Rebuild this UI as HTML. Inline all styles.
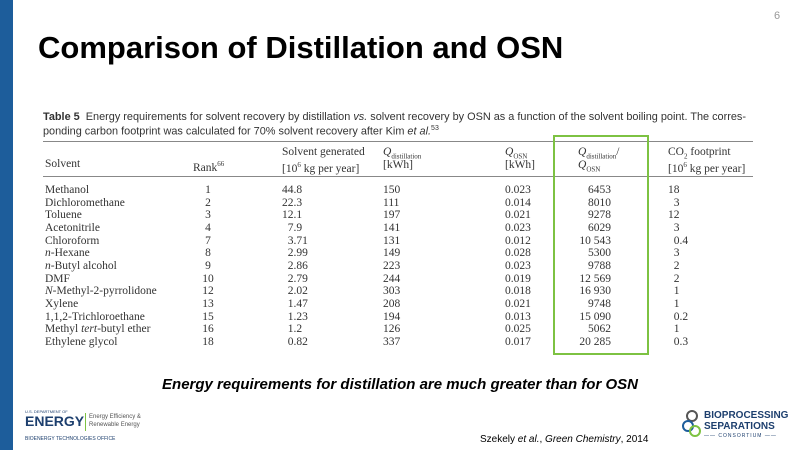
<!DOCTYPE html>
<html><head><style>
body{margin:0;width:800px;height:450px;position:relative;background:#fff;overflow:hidden;font-family:"Liberation Sans",sans-serif}
.a{position:absolute;white-space:nowrap}
.s{font-family:"Liberation Serif",serif;font-size:11.5px;color:#333;line-height:13px}
.cap{font-family:"Liberation Sans",sans-serif;font-size:10.9px;color:#333}
.r{text-align:right}
sub{font-size:7px}
sup{font-size:7px}
</style></head><body>
<div class="a" style="left:0;top:0;width:13px;height:450px;background:#1d5d9b"></div>
<div class="a" style="left:774px;top:10px;font-size:11px;color:#999">6</div>
<div class="a" style="left:38px;top:30px;font-size:31px;font-weight:bold;color:#000">Comparison of Distillation and OSN</div>

<div class="a cap" style="left:43px;top:111px"><b>Table 5</b>&nbsp; Energy requirements for solvent recovery by distillation <i>vs.</i> solvent recovery by OSN as a function of the solvent boiling point. The corres-</div>
<div class="a cap" style="left:43px;top:125px">ponding carbon footprint was calculated for 70% solvent recovery after Kim <i>et al.</i><sup>53</sup></div>
<div class="a" style="left:43px;top:141px;width:710px;height:1px;background:#888"></div>
<div class="a" style="left:43px;top:176px;width:710px;height:1px;background:#888"></div>

<div class="a s" style="left:45px;top:158px">Solvent</div>
<div class="a s" style="left:193px;top:158px">Rank<sup>66</sup></div>
<div class="a s" style="left:282px;top:146px">Solvent generated</div>
<div class="a s" style="left:282px;top:159px">[10<sup>6</sup> kg per year]</div>
<div class="a s" style="left:383px;top:146px"><i>Q</i><sub>distillation</sub></div>
<div class="a s" style="left:383px;top:159px">[kWh]</div>
<div class="a s" style="left:505px;top:146px"><i>Q</i><sub>OSN</sub></div>
<div class="a s" style="left:505px;top:159px">[kWh]</div>
<div class="a s" style="left:578px;top:146px"><i>Q</i><sub>distillation</sub>/</div>
<div class="a s" style="left:578px;top:159px"><i>Q</i><sub>OSN</sub></div>
<div class="a s" style="left:668px;top:146px">CO<sub>2</sub> footprint</div>
<div class="a s" style="left:668px;top:159px">[10<sup>6</sup> kg per year]</div>

<div class="a" style="left:553px;top:135px;width:92px;height:216px;border:2px solid #7dc242"></div>

<div id="rows"></div>
<script>
var d=[["Methanol","1","44.8","150","0.023","6453","18"],["Dichloromethane","2","22.3","111","0.014","8010","&nbsp;&nbsp;3"],["Toluene","3","12.1","197","0.021","9278","12"],["Acetonitrile","4","&nbsp;&nbsp;7.9","141","0.023","6029","&nbsp;&nbsp;3"],["Chloroform","7","&nbsp;&nbsp;3.71","131","0.012","10 543","&nbsp;&nbsp;0.4"],["<i>n</i>-Hexane","8","&nbsp;&nbsp;2.99","149","0.028","5300","&nbsp;&nbsp;3"],["<i>n</i>-Butyl alcohol","9","&nbsp;&nbsp;2.86","223","0.023","9788","&nbsp;&nbsp;2"],["DMF","10","&nbsp;&nbsp;2.79","244","0.019","12 569","&nbsp;&nbsp;2"],["<i>N</i>-Methyl-2-pyrrolidone","12","&nbsp;&nbsp;2.02","303","0.018","16 930","&nbsp;&nbsp;1"],["Xylene","13","&nbsp;&nbsp;1.47","208","0.021","9748","&nbsp;&nbsp;1"],["1,1,2-Trichloroethane","15","&nbsp;&nbsp;1.23","194","0.013","15 090","&nbsp;&nbsp;0.2"],["Methyl <i>tert</i>-butyl ether","16","&nbsp;&nbsp;1.2","126","0.025","5062","&nbsp;&nbsp;1"],["Ethylene glycol","18","&nbsp;&nbsp;0.82","337","0.017","20 285","&nbsp;&nbsp;0.3"]];
var h="";d.forEach(function(r,i){var t=184+i*12.65;
h+='<div class="a s" style="left:45px;top:'+t+'px">'+r[0]+'</div>';
h+='<div class="a s" style="left:196px;top:'+t+'px;width:24px;text-align:center">'+r[1]+'</div>';
h+='<div class="a s" style="left:282px;top:'+t+'px">'+r[2]+'</div>';
h+='<div class="a s" style="left:383px;top:'+t+'px">'+r[3]+'</div>';
h+='<div class="a s" style="left:505px;top:'+t+'px">'+r[4]+'</div>';
h+='<div class="a s r" style="left:560px;top:'+t+'px;width:51px">'+r[5]+'</div>';
h+='<div class="a s" style="left:668px;top:'+t+'px">'+r[6]+'</div>';});
document.getElementById("rows").innerHTML=h;
</script>

<div class="a" style="left:0;width:800px;top:376px;text-align:center;font-size:15px;font-weight:bold;font-style:italic;color:#000">Energy requirements for distillation are much greater than for OSN</div>

<div class="a" style="left:25px;top:409px;font-size:4px;color:#1d3f6e">U.S. DEPARTMENT OF</div>
<div class="a" style="left:25px;top:413px;font-size:14px;font-weight:bold;color:#1d3f6e">ENERGY</div>
<div class="a" style="left:85px;top:413px;width:1px;height:18px;background:#7dc242"></div>
<div class="a" style="left:89px;top:413px;font-size:6px;color:#555;line-height:8px">Energy Efficiency &amp;<br>Renewable Energy</div>
<div class="a" style="left:25px;top:436px;font-size:5px;color:#1d3f6e">BIOENERGY TECHNOLOGIES OFFICE</div>

<div class="a" style="left:480px;top:434px;font-size:10px;color:#000">Szekely <i>et al.</i>, <i>Green Chemistry</i>, 2014</div>
<svg class="a" style="left:680px;top:408px" width="22" height="30"><circle cx="12" cy="8" r="5" fill="none" stroke="#555" stroke-width="2"/><circle cx="8" cy="18" r="5" fill="none" stroke="#1d5d9b" stroke-width="2"/><circle cx="15" cy="23" r="5" fill="none" stroke="#7dc242" stroke-width="2"/></svg>
<div class="a" style="left:704px;top:410px;font-size:10px;font-weight:bold;color:#1d3f6e;line-height:11px">BIOPROCESSING<br>SEPARATIONS</div>
<div class="a" style="left:704px;top:433px;font-size:5px;color:#1d3f6e;letter-spacing:1px">—— CONSORTIUM ——</div>
</body></html>
